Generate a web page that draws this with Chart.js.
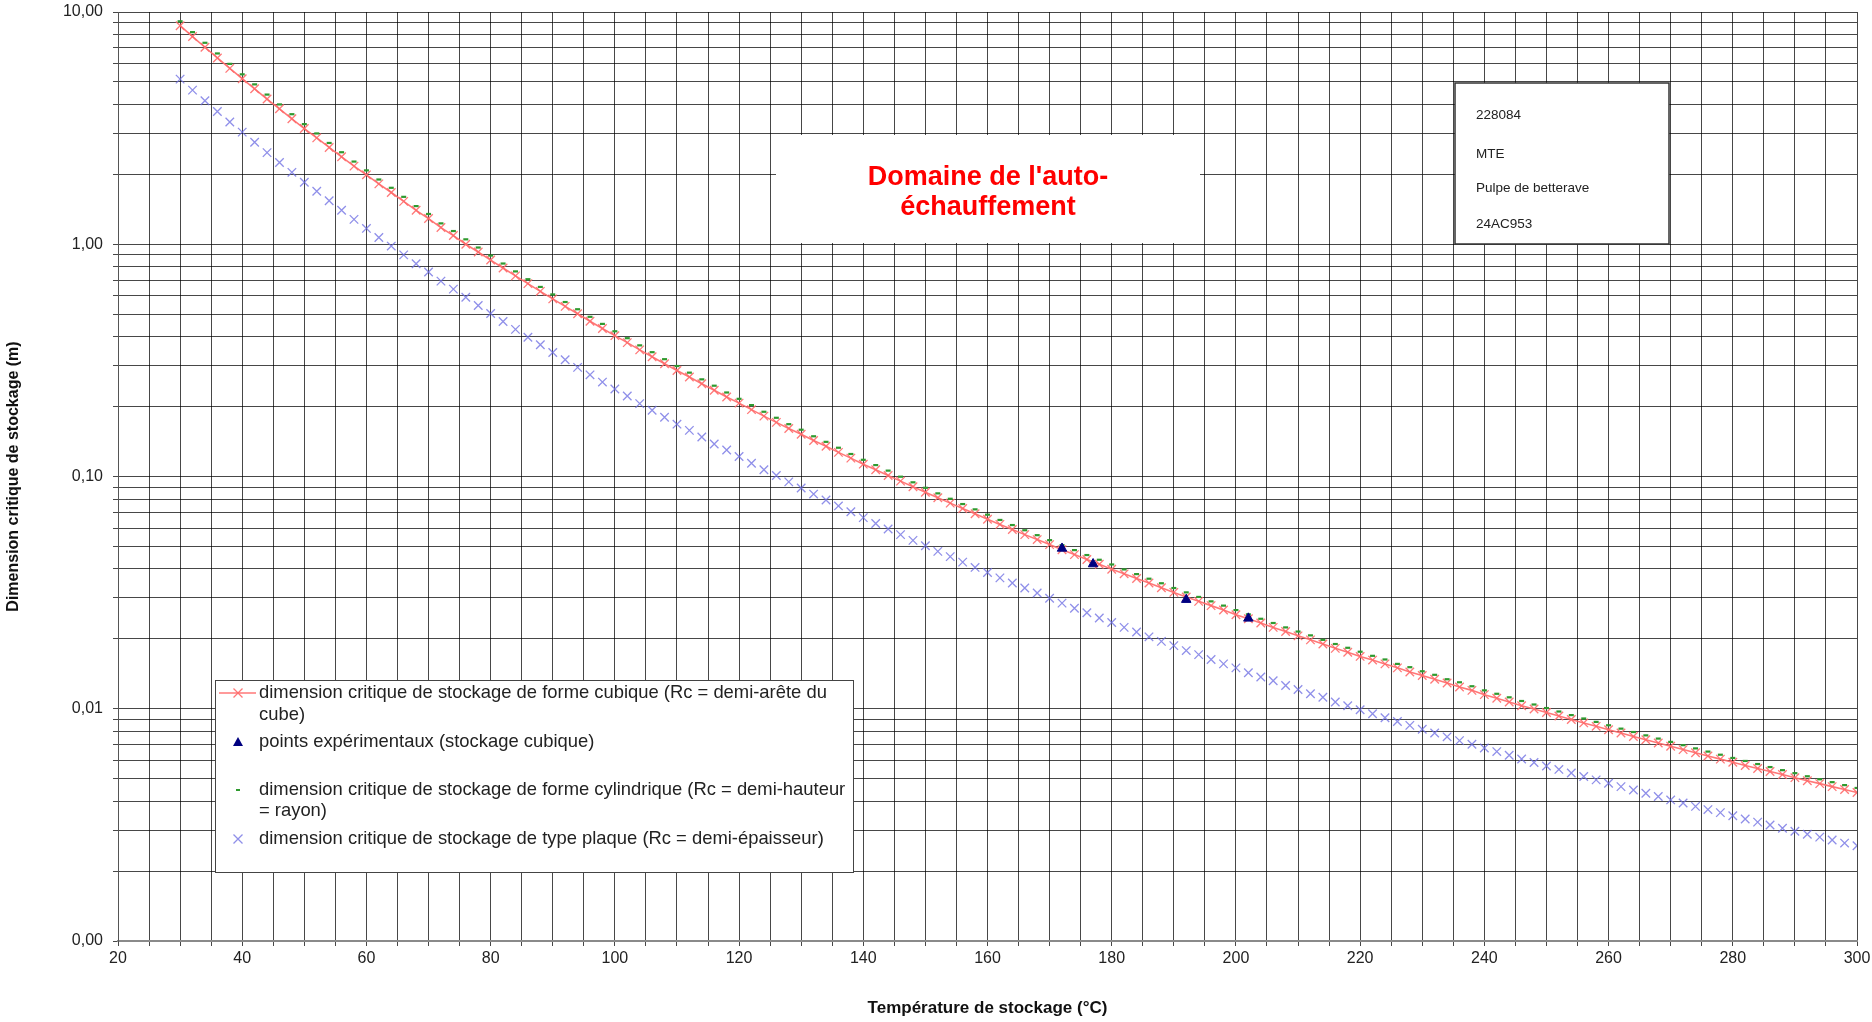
<!DOCTYPE html>
<html lang="fr">
<head>
<meta charset="utf-8">
<title>Dimension critique de stockage</title>
<script src="https://cdn.jsdelivr.net/npm/chart.js@4.4.1/dist/chart.umd.min.js"></script>
<style>
    html, body { margin: 0; padding: 0; background: #fff; }
    #wrap { width: 1872px; height: 1022px; }
</style>
</head>
<body>
<div id="wrap"><canvas id="chart" width="1872" height="1022"></canvas></div>
<script>
// Temperatures (°C) of the computed points
const temperatures = [30,32,34,36,38,40,42,44,46,48,50,52,54,56,58,60,62,64,66,68,
    70,72,74,76,78,80,82,84,86,88,90,92,94,96,98,100,102,104,106,108,
    110,112,114,116,118,120,122,124,126,128,130,132,134,136,138,140,142,144,146,148,
    150,152,154,156,158,160,162,164,166,168,170,172,174,176,178,180,182,184,186,188,
    190,192,194,196,198,200,202,204,206,208,210,212,214,216,218,220,222,224,226,228,
    230,232,234,236,238,240,242,244,246,248,250,252,254,256,258,260,262,264,266,268,
    270,272,274,276,278,280,282,284,286,288,290,292,294,296,298,300];

// forme cubique (Rc = demi-arête du cube), m
const cubeSize = [8.73,7.84,7.05,6.34,5.72,5.16,4.67,4.22,3.83,3.47,
    3.15,2.87,2.61,2.38,2.17,1.99,1.82,1.67,1.53,1.40,
    1.29,1.18,1.09,1.00,0.926,0.855,0.790,0.731,0.677,0.627,
    0.582,0.540,0.502,0.466,0.434,0.404,0.377,0.351,0.328,0.306,
    0.286,0.268,0.251,0.235,0.220,0.207,0.194,0.182,0.171,0.161,
    0.152,0.143,0.135,0.127,0.120,0.113,0.107,0.101,0.0955,0.0903,
    0.0855,0.0810,0.0768,0.0728,0.0691,0.0655,0.0622,0.0591,0.0562,0.0535,
    0.0509,0.0484,0.0461,0.0439,0.0419,0.0399,0.0381,0.0364,0.0348,0.0332,
    0.0317,0.0303,0.0290,0.0278,0.0266,0.0254,0.0244,0.0234,0.0224,0.0215,
    0.0206,0.0198,0.0190,0.0182,0.0175,0.0168,0.0162,0.0156,0.0150,0.0144,
    0.0139,0.0134,0.0129,0.0124,0.0120,0.0115,0.0111,0.0107,0.0103,0.00998,
    0.00964,0.00931,0.00899,0.00869,0.00840,0.00812,0.00786,0.00760,0.00735,0.00712,
    0.00689,0.00667,0.00646,0.00626,0.00607,0.00588,0.00570,0.00553,0.00537,0.00521,
    0.00505,0.00490,0.00476,0.00462,0.00449,0.00436];

// forme cylindrique (Rc = demi-hauteur = rayon), m
const cylinderSize = [9.12,8.19,7.37,6.63,5.98,5.39,4.88,4.41,4.00,3.63,
    3.29,3.00,2.73,2.49,2.27,2.08,1.90,1.75,1.60,1.46,
    1.35,1.23,1.14,1.05,0.968,0.894,0.826,0.764,0.707,0.655,
    0.608,0.564,0.525,0.487,0.454,0.422,0.394,0.367,0.343,0.320,
    0.299,0.280,0.262,0.246,0.230,0.216,0.203,0.190,0.179,0.168,
    0.159,0.149,0.141,0.133,0.125,0.118,0.112,0.106,0.0998,0.0944,
    0.0894,0.0846,0.0802,0.0761,0.0722,0.0685,0.0650,0.0618,0.0587,0.0559,
    0.0532,0.0506,0.0482,0.0459,0.0438,0.0418,0.0398,0.0380,0.0363,0.0347,
    0.0331,0.0317,0.0303,0.0290,0.0278,0.0266,0.0255,0.0244,0.0234,0.0224,
    0.0215,0.0207,0.0198,0.0190,0.0183,0.0176,0.0169,0.0163,0.0156,0.0151,
    0.0145,0.0140,0.0134,0.0130,0.0125,0.0120,0.0116,0.0112,0.0108,0.01043,
    0.01007,0.00973,0.00939,0.00908,0.00878,0.00849,0.00821,0.00794,0.00768,0.00744,
    0.00720,0.00697,0.00675,0.00654,0.00634,0.00614,0.00596,0.00578,0.00561,0.00544,
    0.00528,0.00512,0.00497,0.00483,0.00469,0.00456];

// type plaque (Rc = demi-épaisseur), m
const plateSize = [5.14,4.61,4.15,3.73,3.36,3.04,2.75,2.48,2.25,2.04,
    1.85,1.69,1.54,1.40,1.28,1.17,1.07,0.982,0.900,0.824,
    0.759,0.694,0.641,0.591,0.545,0.503,0.465,0.430,0.398,0.369,
    0.342,0.318,0.295,0.274,0.255,0.238,0.222,0.206,0.193,0.180,
    0.168,0.158,0.148,0.138,0.130,0.122,0.114,0.107,0.101,0.0948,
    0.0892,0.0840,0.0792,0.0747,0.0705,0.0665,0.0628,0.0594,0.0562,0.0531,
    0.0503,0.0476,0.0452,0.0428,0.0406,0.0386,0.0366,0.0348,0.0331,0.0315,
    0.0299,0.0285,0.0271,0.0259,0.0246,0.0235,0.0224,0.0214,0.0204,0.0195,
    0.0187,0.0178,0.0171,0.0163,0.0156,0.0150,0.0143,0.0137,0.0132,0.0126,
    0.0121,0.0116,0.0112,0.0107,0.0103,0.00990,0.00952,0.00915,0.00881,0.00848,
    0.00816,0.00786,0.00757,0.00729,0.00703,0.00678,0.00654,0.00631,0.00608,0.00587,
    0.00567,0.00548,0.00529,0.00511,0.00494,0.00478,0.00462,0.00447,0.00433,0.00419,
    0.00405,0.00393,0.00380,0.00368,0.00357,0.00346,0.00335,0.00325,0.00316,0.00306,
    0.00297,0.00288,0.00280,0.00272,0.00264,0.00257];

// points expérimentaux (stockage cubique)
const expTemps = [172, 177, 192, 202];
const expSizes = [0.049, 0.042, 0.0295, 0.0245];

// log grid lines and the labelled decades
const yGridValues = [0.001,0.002,0.003,0.004,0.005,0.006,0.007,0.008,0.009,
    0.01,0.02,0.03,0.04,0.05,0.06,0.07,0.08,0.09,
    0.1,0.2,0.3,0.4,0.5,0.6,0.7,0.8,0.9,
    1,2,3,4,5,6,7,8,9,10];
const yLabelValues = [0.001, 0.01, 0.1, 1, 10];

const legendLabels = [
    ['dimension critique de stockage de forme cubique (Rc = demi-arête du', 'cube)'],
    ['points expérimentaux (stockage cubique)'],
    ['dimension critique de stockage de forme cylindrique (Rc = demi-hauteur', '= rayon)'],
    ['dimension critique de stockage de type plaque (Rc = demi-épaisseur)']
];
const domainLines = ["Domaine de l'auto-", 'échauffement'];
const infoLines = ['228084', 'MTE', 'Pulpe de betterave', '24AC953'];

const FONT = '"Liberation Sans", Arial, sans-serif';
const RED = 'rgba(255, 105, 105, 0.9)';
const BLUE = 'rgba(105, 105, 225, 0.75)';
const GREEN = '#2f9a2f';
const NAVY = '#000080';
const GRID = 'rgba(0,0,0,0.72)';

const toPoints = (xs, ys) => xs.map((x, i) => ({ x: x, y: ys[i] }));

function drawCross(ctx, x, y, r, color) {
    ctx.save();
    ctx.strokeStyle = color;
    ctx.lineWidth = 1.3;
    ctx.beginPath();
    ctx.moveTo(x - r, y - r); ctx.lineTo(x + r, y + r);
    ctx.moveTo(x - r, y + r); ctx.lineTo(x + r, y - r);
    ctx.stroke();
    ctx.restore();
}

// legend box and the two text boxes drawn over the grid
const overlayPlugin = {
    id: 'overlay',
    afterDraw(chart) {
        const ctx = chart.ctx;
        ctx.save();

        // Domaine de l'auto-échauffement
        ctx.fillStyle = '#fff';
        ctx.fillRect(776, 135, 424, 108);
        ctx.fillStyle = '#ff0000';
        ctx.font = 'bold 27px ' + FONT;
        ctx.textAlign = 'center';
        ctx.textBaseline = 'middle';
        ctx.fillText(domainLines[0], 988, 178);
        ctx.fillText(domainLines[1], 988, 208);

        // info box
        ctx.fillStyle = '#fff';
        ctx.fillRect(1455, 83, 214, 161);
        ctx.strokeStyle = '#333';
        ctx.lineWidth = 1.5;
        ctx.strokeRect(1455, 83, 214, 161);
        ctx.fillStyle = '#222';
        ctx.font = '13.5px ' + FONT;
        ctx.textAlign = 'left';
        [115, 154, 188, 224].forEach((y, i) => ctx.fillText(infoLines[i], 1476, y));

        // legend
        ctx.fillStyle = '#fff';
        ctx.fillRect(215, 680, 638, 192);
        ctx.strokeStyle = '#444';
        ctx.lineWidth = 1;
        ctx.strokeRect(215.5, 680.5, 638, 192);

        ctx.fillStyle = '#222';
        ctx.font = '18.4px ' + FONT;
        const textX = 259;
        const rows = [[693, 715], [742], [790, 811], [839]];
        rows.forEach((ys, i) => ys.forEach((y, j) => ctx.fillText(legendLabels[i][j], textX, y)));

        const mx = 238;
        // cubique: line + x
        ctx.strokeStyle = RED;
        ctx.lineWidth = 1.5;
        ctx.beginPath();
        ctx.moveTo(219, 693); ctx.lineTo(256, 693);
        ctx.stroke();
        drawCross(ctx, mx, 693, 4.5, RED);
        // triangle
        ctx.fillStyle = NAVY;
        ctx.beginPath();
        ctx.moveTo(mx, 737); ctx.lineTo(mx + 5, 746); ctx.lineTo(mx - 5, 746);
        ctx.closePath();
        ctx.fill();
        // cylindrique: small dash
        ctx.strokeStyle = GREEN;
        ctx.lineWidth = 2;
        ctx.beginPath();
        ctx.moveTo(mx - 2, 790); ctx.lineTo(mx + 2, 790);
        ctx.stroke();
        // plaque: x
        drawCross(ctx, mx, 839, 4.5, BLUE);

        ctx.restore();
    }
};

const ctx = document.getElementById('chart').getContext('2d');
new Chart(ctx, {
    type: 'scatter',
    data: {
        datasets: [
            {
                label: legendLabels[1].join(' '),
                data: toPoints(expTemps, expSizes),
                pointStyle: 'triangle',
                pointRadius: 5.5,
                backgroundColor: NAVY,
                borderColor: NAVY,
                borderWidth: 1,
                order: 0
            },
            {
                label: legendLabels[2].join(' '),
                data: toPoints(temperatures, cylinderSize),
                pointStyle: 'line',
                pointRadius: 2.5,
                borderColor: GREEN,
                borderWidth: 2.2,
                backgroundColor: GREEN,
                order: 1
            },
            {
                label: legendLabels[0].join(' '),
                data: toPoints(temperatures, cubeSize),
                showLine: true,
                borderColor: RED,
                backgroundColor: RED,
                borderWidth: 1.6,
                pointStyle: 'crossRot',
                pointRadius: 6,
                pointBorderWidth: 1.3,
                order: 2
            },
            {
                label: legendLabels[3][0],
                data: toPoints(temperatures, plateSize),
                showLine: false,
                borderColor: BLUE,
                backgroundColor: BLUE,
                pointStyle: 'crossRot',
                pointRadius: 6,
                pointBorderWidth: 1.3,
                order: 3
            }
        ]
    },
    options: {
        responsive: false,
        devicePixelRatio: 1,
        animation: false,
        layout: { padding: { top: 12, right: 15, left: 0, bottom: 0 } },
        plugins: {
            legend: { display: false },
            tooltip: { enabled: false }
        },
        scales: {
            x: {
                type: 'linear',
                min: 20,
                max: 300,
                afterFit: (scale) => {
                    scale.height = 81;
                    scale.paddingLeft = 0;
                    scale.paddingRight = 0;
                },
                ticks: {
                    stepSize: 5,
                    autoSkip: false,
                    maxRotation: 0,
                    padding: 3,
                    color: '#222',
                    font: { family: FONT, size: 16 },
                    callback: (v) => (v % 20 === 0 ? String(v) : '')
                },
                grid: { color: GRID, lineWidth: 1, tickLength: 5 },
                border: { color: '#8a8a8a', width: 2 },
                title: {
                    display: true,
                    text: 'Température de stockage (°C)',
                    color: '#111',
                    font: { family: FONT, size: 17, weight: 'bold' },
                    padding: { top: 0, bottom: 3 }
                }
            },
            y: {
                type: 'logarithmic',
                min: 0.001,
                max: 10,
                afterFit: (scale) => {
                    scale.width = 118;
                    scale.paddingTop = 0;
                    scale.paddingBottom = 0;
                },
                afterBuildTicks: (scale) => {
                    scale.ticks = yGridValues.map(v => ({ value: v, major: yLabelValues.includes(v) }));
                },
                ticks: {
                    autoSkip: false,
                    padding: 10,
                    color: '#222',
                    font: { family: FONT, size: 16 },
                    callback: (v) => (yLabelValues.includes(v) ? v.toFixed(2).replace('.', ',') : '')
                },
                grid: { color: GRID, lineWidth: 1, tickLength: 5 },
                border: { color: '#555', width: 1 },
                title: {
                    display: true,
                    text: 'Dimension critique de stockage (m)',
                    color: '#111',
                    font: { family: FONT, size: 16, weight: 'bold' },
                    padding: { top: 4, bottom: 0 }
                }
            }
        }
    },
    plugins: [overlayPlugin]
});
</script>
</body>
</html>
